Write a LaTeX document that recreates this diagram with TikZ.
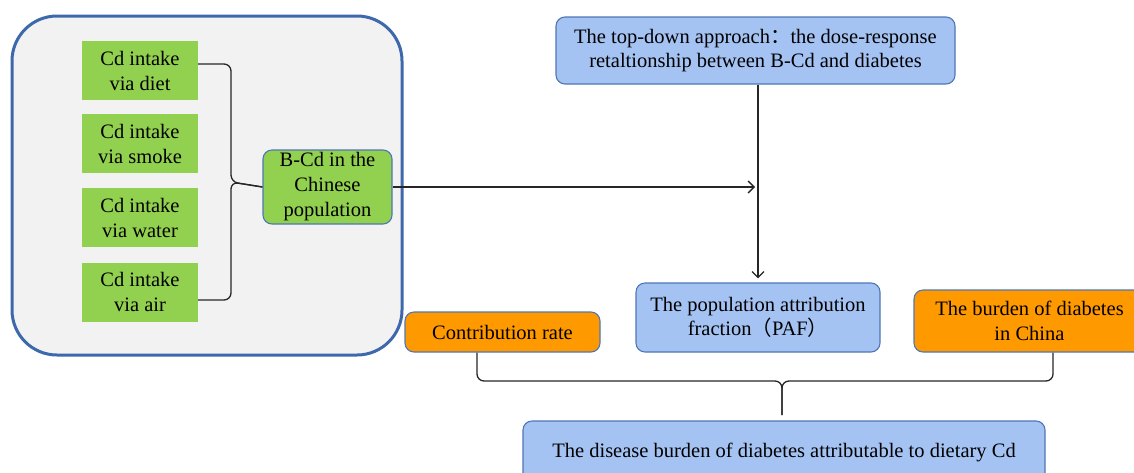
\documentclass[tikz,border=0pt]{standalone}
\usepackage{fontspec}
\setmainfont{Liberation Serif}
\newfontfamily\cjk{Noto Sans CJK SC}
\usetikzlibrary{arrows.meta}
\definecolor{grn}{HTML}{92D050}
\definecolor{org}{HTML}{FF9900}
\definecolor{lblue}{HTML}{A4C2F2}
\definecolor{bdr}{HTML}{4F77B5}
\definecolor{obdr}{HTML}{3E68AC}
\definecolor{panel}{HTML}{F2F2F2}
\definecolor{ln}{HTML}{262626}
\begin{document}
\begin{tikzpicture}[x=1pt,y=-1pt,
  txt/.style={font=\fontsize{20.5}{25}\selectfont, align=center, text=black, inner sep=0pt},
  gbox/.style={txt, fill=grn, minimum width=116pt, minimum height=59pt},
  rbox/.style={txt, draw=bdr, line width=1.1pt, rounded corners=9pt},
  bbox/.style={rbox, fill=lblue},
  obox/.style={rbox, fill=org},
  conn/.style={draw=ln, line width=1.3pt},
  arr/.style={conn, -{Straight Barb[length=6pt,width=12pt,line width=1.3pt]}},
  brace/.style={conn, rounded corners=7pt}]
\useasboundingbox (0,0) rectangle (1134,472);
\clip (0,0) rectangle (1134,472);
% panel
\node[draw=obdr, fill=panel, line width=3pt, rounded corners=45pt, minimum width=390pt, minimum height=339pt, inner sep=0pt] (panel) at (207,185.5) {};
% green boxes
\node[gbox] (diet) at (140,70.5) {Cd intake\\via diet};
\node[gbox] (smoke) at (140,143.5) {Cd intake\\via smoke};
\node[gbox] (water) at (140,217.5) {Cd intake\\via water};
\node[gbox] (air) at (140,292) {Cd intake\\via air};
\node[rbox, fill=grn, minimum width=129pt, minimum height=74pt] (bcd) at (327.5,187) {B-Cd in the\\Chinese\\population};
% top box
\node[bbox, minimum width=399pt, minimum height=67pt, font=\fontsize{20.5}{24}\selectfont] (top) at (755.5,50.5) {The top-down approach{\cjk ：}the dose-response\\retaltionship between B-Cd and diabetes};
% middle row
\node[bbox, minimum width=244pt, minimum height=69pt, font=\fontsize{20.5}{24.5}\selectfont] (paf) at (758,317.5) {The population attribution\\fraction{\cjk （}PAF{\cjk ）}};
\node[obox, minimum width=195pt, minimum height=40pt] (contrib) at (502.5,332) {Contribution rate};
\node[obox, minimum width=231pt, minimum height=62pt, font=\fontsize{20.5}{24.5}\selectfont] (burden) at (1029.5,321) {The burden of diabetes\\in China};
% bottom
\node[bbox, minimum width=522pt, minimum height=62pt] (dis) at (784,452) {The disease burden of diabetes attributable to dietary Cd};
% brace left
\draw[brace] ([yshift=6.5pt]diet.east) -- (231,64) -- (231,182) -- (bcd.west);
\draw[brace] ([yshift=-8pt]air.east) -- (231,300) -- (231,182) -- (bcd.west);
% arrows
\coordinate (hend) at (755,187);
\draw[arr] (bcd.east) -- (hend);
\draw[arr, shorten >=4pt] (top.south -| paf.north) -- (paf.north);
% bottom brace
\coordinate (btip) at (782,415);
\draw[brace] ([xshift=-25.5pt]contrib.south) -- (477,381) -- (782,381) -- (btip);
\draw[brace] ([xshift=23.5pt]burden.south) -- (1053,381) -- (782,381) -- (btip);
\end{tikzpicture}
\end{document}
